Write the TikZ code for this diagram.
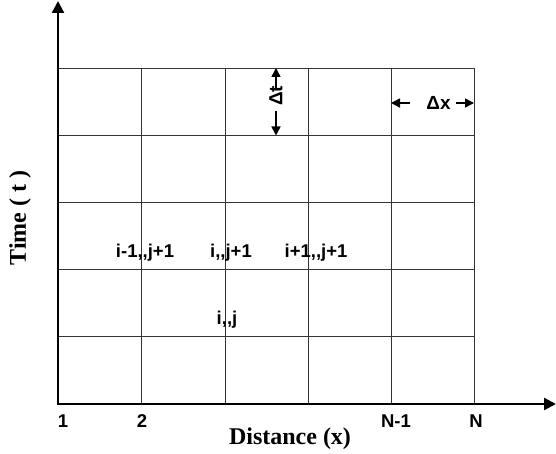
\documentclass[tikz,border=0pt]{standalone}
\usepackage{fontspec}
\setmainfont{Liberation Serif}
\newfontfamily\lab{Liberation Sans}[Ligatures=TeXOff]
\usetikzlibrary{arrows.meta}
\begin{document}
\begin{tikzpicture}[x=1pt,y=-1pt,
  axis/.style={line width=2.4pt,-{Triangle[length=12pt,width=12pt]}},
  gridline/.style={line width=0.9pt,draw=black!80},
  lbl/.style={font=\lab\bfseries\fontsize{18.5}{22}\selectfont,inner sep=0pt},
  dimlbl/.style={font=\lab\bfseries\fontsize{19}{23}\selectfont,inner sep=0pt},
  axtitle/.style={font=\bfseries\fontsize{24}{28}\selectfont,inner sep=0pt},
  dim/.style={line width=1.5pt,-{Triangle[length=9pt,width=9pt]}}]
\useasboundingbox (0,0) rectangle (556,454);
% grid
\foreach \y in {68,135,202,269,336}{
  \draw[gridline] (58,\y) -- (474,\y);
}
\foreach \x in {141,225,308,391,474}{
  \draw[gridline] (\x,68) -- (\x,404);
}
% axes
\coordinate (O) at (58,404);
\coordinate (ytip) at (58,1);
\coordinate (xtip) at (556,404);
\draw[axis] (O) -- (ytip);
\draw[axis] ([xshift=-1.2pt]O) -- (xtip);
% dimension marks
\node[dimlbl,rotate=90] (dt) at (276,96) {Δt};
\coordinate (dtTop) at (276,68);
\coordinate (dtBot) at (276,135.5);
\draw[dim,shorten <=-2pt] (dt.east) -- (dtTop);
\draw[dim,shorten <=5pt] (dt.west) -- (dtBot);
\node[dimlbl] (dx) at (438.5,103) {Δx};
\coordinate (dxL) at (391,103);
\coordinate (dxR) at (474,103);
\draw[dim,shorten <=16pt] (dx.west) -- (dxL);
\draw[dim,shorten <=5pt] (dx.east) -- (dxR);
% node labels
\node[lbl] (a) at (145,253) {i-1,,j+1};
\node[lbl] (b) at (231,253) {i,,j+1};
\node[lbl] (c) at (316,253) {i+1,,j+1};
\node[lbl] (d) at (227,320) {i,,j};
% axis labels
\node[lbl] (n1) at (63,421) {1};
\node[lbl] (n2) at (142,421) {2};
\node[lbl] (n3) at (396,421) {N-1};
\node[lbl] (n4) at (476,421) {N};
\node[axtitle] (xl) at (290,439) {Distance (x)};
\node[axtitle,rotate=90] (yl) at (20,218) {Time ( t )};
\end{tikzpicture}
\end{document}
